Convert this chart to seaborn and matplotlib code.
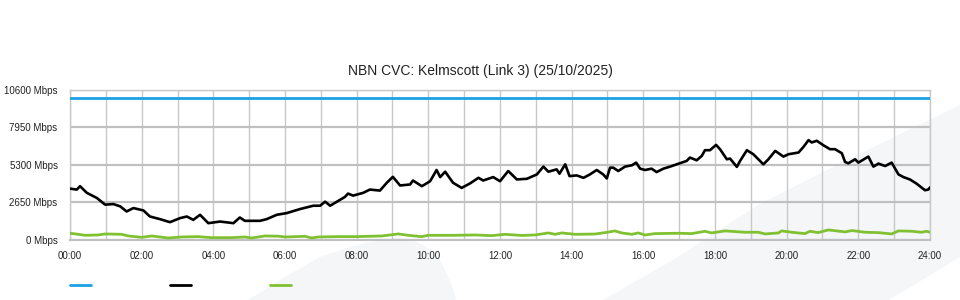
import matplotlib
matplotlib.use("Agg")
import matplotlib.pyplot as plt
from matplotlib.patches import Polygon
from matplotlib.lines import Line2D
import seaborn as sns
import pandas as pd

title = "NBN CVC: Kelmscott (Link 3) (25/10/2025)"
y_ticks = [0, 2650, 5300, 7950, 10600]
y_tick_labels = ["0 Mbps", "2650 Mbps", "5300 Mbps", "7950 Mbps", "10600 Mbps"]
x_ticks = [0, 2, 4, 6, 8, 10, 12, 14, 16, 18, 20, 22, 24]
x_tick_labels = ["00:00", "02:00", "04:00", "06:00", "08:00", "10:00", "12:00",
                 "14:00", "16:00", "18:00", "20:00", "22:00", "24:00"]

capacity_hours = [0, 24]
capacity_mbps = [10000, 10000]

down_hours = [0.00, 0.19, 0.28, 0.47, 0.75, 0.98, 1.21, 1.40, 1.58, 1.77, 2.05, 2.23,
              2.51, 2.79, 3.07, 3.26, 3.44, 3.63, 3.86, 4.19, 4.56, 4.74, 4.88, 5.30,
              5.49, 5.77, 6.05, 6.42, 6.79, 6.98, 7.12, 7.26, 7.54, 7.67, 7.76, 7.90,
              8.18, 8.37, 8.65, 8.84, 9.01, 9.21, 9.49, 9.57, 9.82, 10.05, 10.23, 10.33,
              10.47, 10.69, 10.93, 11.16, 11.40, 11.53, 11.81, 12.00, 12.23, 12.47, 12.75,
              13.03, 13.21, 13.35, 13.58, 13.66, 13.82, 13.94, 14.14, 14.33, 14.51, 14.70,
              14.88, 14.98, 15.07, 15.16, 15.30, 15.49, 15.68, 15.80, 15.91, 16.05, 16.23,
              16.37, 16.56, 16.75, 16.93, 17.21, 17.30, 17.49, 17.63, 17.72, 17.86, 18.03,
              18.14, 18.33, 18.42, 18.61, 18.70, 18.89, 19.07, 19.21, 19.35, 19.49, 19.68,
              19.91, 20.05, 20.33, 20.47, 20.61, 20.70, 20.84, 21.02, 21.21, 21.35, 21.54,
              21.63, 21.72, 21.91, 22.00, 22.28, 22.42, 22.56, 22.75, 22.93, 23.12, 23.26,
              23.44, 23.63, 23.86, 23.95, 24.00]
down_mbps = [3620, 3550, 3790, 3320, 2960, 2490, 2530, 2370, 2010, 2250, 2080, 1655,
             1470, 1256, 1540, 1655, 1420, 1775, 1185, 1300, 1185, 1585, 1350, 1350,
             1470, 1775, 1896, 2180, 2415, 2415, 2700, 2415, 2840, 3030, 3270, 3126,
             3320, 3553, 3480, 4030, 4450, 3840, 3910, 4190, 3790, 4140, 4930, 4430,
             4810, 4030, 3670, 3980, 4380, 4190, 4430, 4140, 4860, 4265, 4310,
             4620, 5170, 4810, 4975, 4670, 5330, 4500, 4550, 4380, 4620, 4930,
             4620, 4335, 5095, 5095, 4860, 5170, 5260, 5450, 5025, 4930, 5025,
             4785, 5025, 5170, 5330, 5570, 5805, 5615, 5920, 6325, 6325, 6700,
             6395, 5685, 5735, 5150, 5570, 6325, 6040, 5685, 5330, 5685, 6275,
             5875, 6040, 6160, 6560, 7035, 6870, 6990, 6680, 6395, 6395, 6110,
             5495, 5400, 5685, 5450, 5875, 5170, 5380, 5210, 5450, 4620, 4430,
             4265, 3960, 3505, 3550, 3700]

up_hours = [0.00, 0.23, 0.42, 0.79, 0.98, 1.44, 1.63, 2.00, 2.28, 2.74, 3.12, 3.58,
            3.95, 4.51, 4.88, 5.07, 5.44, 5.81, 6.00, 6.56, 6.74, 6.93, 7.50, 7.95,
            8.70, 9.16, 9.44, 9.81, 10.00, 10.70, 11.30, 11.77, 12.14, 12.60, 12.98,
            13.35, 13.54, 13.72, 14.10, 14.65, 15.00, 15.20, 15.40, 15.68, 15.86,
            16.05, 16.33, 16.98, 17.35, 17.72, 17.90, 18.28, 18.84, 19.21, 19.40,
            19.77, 19.86, 20.14, 20.51, 20.65, 20.88, 21.16, 21.63, 21.82, 22.19,
            22.56, 22.93, 23.12, 23.49, 23.77, 23.90, 24.00]
up_mbps = [475, 400, 330, 355, 426, 400, 284, 190, 284, 142, 213, 237,
           166, 166, 213, 142, 284, 270, 213, 260, 142, 213, 240, 237,
           284, 426, 330, 237, 330, 330, 355, 307, 400, 320, 355,
           497, 400, 497, 400, 420, 545, 640, 497, 400, 497,
           355, 450, 475, 450, 615, 497, 640, 545, 545, 426,
           497, 640, 545, 450, 615, 520, 710, 570, 665, 545,
           520, 426, 640, 615, 545, 615, 545]

BLUE = "#1ba1e2"
GREEN = "#80c132"

sns.set_style("white")
plt.rcParams["font.family"] = ["Liberation Sans", "DejaVu Sans"]

fig = plt.figure(figsize=(9.6, 3.0), dpi=100)
W, H = 960.0, 300.0

def px(pts):
    return [(x / W, 1 - y / H) for x, y in pts]

# faint background watermark shapes (behind everything)
shape1 = [(248, 300), (285, 277), (320, 257), (360, 244), (395, 238), (410, 239),
          (425, 246), (440, 260), (452, 285), (456, 300)]
shape2 = [(603, 300), (673, 260), (758, 205), (847, 160), (960, 105), (960, 257), (889, 300)]
for s in (shape1, shape2):
    fig.patches.append(Polygon(px(s), closed=True, transform=fig.transFigure,
                               facecolor="#f5f6f8", edgecolor="none", zorder=-10))

ax = fig.add_axes([70 / W, 1 - 240 / H, 860 / W, 150.5 / H])
ax.set_zorder(5)
ax.patch.set_alpha(0)

df_cap = pd.DataFrame({"h": capacity_hours, "v": capacity_mbps})
df_down = pd.DataFrame({"h": down_hours, "v": down_mbps})
df_up = pd.DataFrame({"h": up_hours, "v": up_mbps})

sns.lineplot(data=df_cap, x="h", y="v", ax=ax, color=BLUE, lw=2, zorder=5)
sns.lineplot(data=df_down, x="h", y="v", ax=ax, color="black", lw=1.9, zorder=6)
sns.lineplot(data=df_up, x="h", y="v", ax=ax, color=GREEN, lw=2.0, zorder=6)

ax.set_xlim(0, 24)
ax.set_ylim(0, 10600)
ax.set_xticks(x_ticks)
ax.set_xticklabels(x_tick_labels)
ax.set_xticks(range(25), minor=True)
ax.set_yticks(y_ticks)
ax.set_yticklabels(y_tick_labels)
ax.tick_params(axis="both", which="both", length=0, labelsize=7.0, colors="#222222")
ax.tick_params(axis="x", pad=8)
ax.tick_params(axis="y", pad=9)
ax.set_xlabel("")
ax.set_ylabel("")
ax.grid(True, axis="x", which="both", color="#c8c8c8", lw=1, zorder=1)
ax.grid(True, axis="y", which="major", color="#c0c0c0", lw=1.6, zorder=1)
for sp in ax.spines.values():
    sp.set_color("#c8c8c8")
    sp.set_linewidth(1)
ax.spines["bottom"].set_color("#c0c0c0")
ax.spines["bottom"].set_linewidth(1.5)
ax.set_axisbelow(True)

fig.text(480 / W, 1 - 71 / H, title, ha="center", va="center", fontsize=10, color="#222222")

# legend keys at the bottom
for x0, c in ((70, BLUE), (170, "black"), (270, GREEN)):
    fig.add_artist(Line2D([x0 / W, (x0 + 21) / W], [1 - 285 / H, 1 - 285 / H],
                          transform=fig.transFigure, color=c, lw=2))

fig.savefig("out.png", dpi=100)
